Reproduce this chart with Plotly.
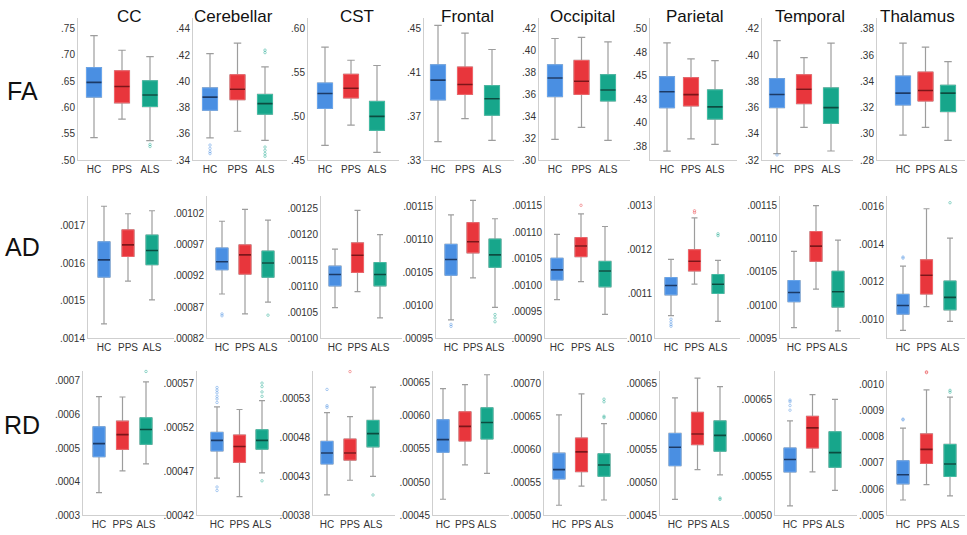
import plotly.graph_objects as go
from decimal import Decimal, ROUND_HALF_UP

W, H = 967, 535

GROUPS = ["HC", "PPS", "ALS"]
REGIONS = ["CC", "Cerebellar", "CST", "Frontal", "Occipital", "Parietal", "Temporal", "Thalamus"]
METRICS = ["FA", "AD", "RD"]

# Five-number summaries per region: (lower whisker, Q1, median, Q3, upper whisker)
FA_HC = [
    (.543, .620, .648, .676, .737),
    (.357, .378, .388, .395, .421),
    (.467, .509, .526, .538, .579),
    (.347, .385, .403, .417, .453),
    (.319, .358, .375, .387, .411),
    (.370, .416, .433, .449, .485),
    (.325, .360, .370, .382, .411),
    (.299, .322, .331, .344, .369),
]
FA_PPS = [
    (.578, .609, .640, .670, .709),
    (.362, .386, .394, .405, .429),
    (.490, .521, .532, .548, .564),
    (.368, .390, .399, .415, .446),
    (.330, .360, .372, .391, .412),
    (.383, .418, .430, .448, .468),
    (.345, .363, .374, .385, .398),
    (.305, .325, .333, .347, .366),
]
FA_ALS = [
    (.537, .602, .624, .651, .697),
    (.355, .375, .383, .390, .411),
    (.459, .484, .500, .517, .558),
    (.348, .371, .386, .398, .431),
    (.318, .354, .364, .378, .408),
    (.377, .404, .417, .435, .466),
    (.327, .348, .360, .375, .409),
    (.295, .317, .331, .337, .355),
]

AD_HC = [
    (.001438, .001563, .001609, .001657, .001752),
    (.000891, .000930, .000943, .000965, .001008),
    (.001059, .001101, .001123, .001139, .001172),
    (.000978, .001046, .001070, .001093, .001138),
    (.000973, .001010, .001029, .001051, .001096),
    (.001051, .001098, .001119, .001137, .001178),
    (.000966, .001005, .001019, .001037, .001081),
    (.000942, .001028, .001074, .001133, .001283),
]
AD_PPS = [
    (.001552, .001618, .001649, .001689, .001732),
    (.000859, .000923, .000954, .000970, .001027),
    (.001090, .001127, .001160, .001184, .001247),
    (.001042, .001080, .001097, .001126, .001160),
    (.001007, .001054, .001074, .001090, .001135),
    (.001122, .001152, .001174, .001200, .001272),
    (.001024, .001066, .001089, .001111, .001150),
    (.001068, .001135, .001235, .001317, .001589),
]
AD_ALS = [
    (.001502, .001596, .001634, .001675, .001740),
    (.000878, .000918, .000941, .000960, .001010),
    (.001039, .001101, .001123, .001146, .001200),
    (.000997, .001058, .001077, .001101, .001132),
    (.000945, .000997, .001027, .001045, .001111),
    (.001038, .001101, .001122, .001144, .001176),
    (.000961, .000997, .001020, .001051, .001098),
    (.000989, .001051, .001117, .001204, .001433),
]

RD_HC = [
    (.000367, .000474, .000513, .000563, .000653),
    (.000462, .000493, .000505, .000514, .000543),
    (.000406, .000446, .000460, .000475, .000512),
    (.000474, .000545, .000564, .000594, .000641),
    (.000515, .000555, .000569, .000594, .000652),
    (.000474, .000525, .000553, .000574, .000628),
    (.000512, .000556, .000572, .000587, .000622),
    (.000558, .000620, .000655, .000708, .000833),
]
RD_PPS = [
    (.000432, .000496, .000540, .000580, .000652),
    (.000441, .000480, .000498, .000511, .000540),
    (.000425, .000451, .000460, .000478, .000507),
    (.000526, .000562, .000584, .000606, .000647),
    (.000544, .000566, .000596, .000617, .000684),
    (.000519, .000557, .000573, .000606, .000658),
    (.000556, .000587, .000613, .000628, .000656),
    (.000617, .000698, .000752, .000811, .000980),
]
RD_ALS = [
    (.000453, .000511, .000555, .000590, .000697),
    (.000468, .000495, .000505, .000517, .000550),
    (.000430, .000468, .000485, .000502, .000545),
    (.000513, .000565, .000590, .000612, .000662),
    (.000523, .000559, .000576, .000593, .000639),
    (.000511, .000547, .000571, .000593, .000645),
    (.000532, .000562, .000581, .000608, .000650),
    (.000574, .000648, .000696, .000771, .000952),
]

# Outlying subjects: (region, group, values)
FA_OUT = [
    ("CC", "ALS", [.530, .526]),
    ("Cerebellar", "HC", [.3515, .3490, .3465, .3450]),
    ("Cerebellar", "ALS", [.4237, .4218, .3500, .3475, .3450, .3430]),
    ("Temporal", "HC", [.3240]),
]
AD_OUT = [
    ("Cerebellar", "HC", [.000859, .000856]),
    ("Cerebellar", "ALS", [.000857]),
    ("Frontal", "HC", [.000971, .000968]),
    ("Frontal", "ALS", [.000986, .000981, .000975]),
    ("Occipital", "PPS", [.001151]),
    ("Parietal", "HC", [.001043, .001037, .001031, .001027]),
    ("Parietal", "PPS", [.001288, .001284]),
    ("Parietal", "ALS", [.001236, .001232]),
    ("Thalamus", "HC", [.001332, .001326]),
    ("Thalamus", "ALS", [.001621]),
]
RD_OUT = [
    ("CC", "ALS", [.000728]),
    ("Cerebellar", "HC", [.000565, .000562, .000559, .000555, .000552, .000548, .000452, .000448]),
    ("Cerebellar", "ALS", [.000570, .000566, .000560, .000555, .000459]),
    ("CST", "HC", [.000542, .000521, .000519]),
    ("CST", "PPS", [.000565]),
    ("CST", "ALS", [.000406]),
    ("Occipital", "ALS", [.000676, .000672, .000650, .000648]),
    ("Parietal", "ALS", [.000476, .000474]),
    ("Temporal", "HC", [.000649, .000647, .000642, .000636]),
    ("Thalamus", "HC", [.000868, .000865]),
    ("Thalamus", "PPS", [.001049, .001046]),
    ("Thalamus", "ALS", [.000978, .000971]),
]

# Y axis ticks, label decimals and ranges per region
FA_TICKS = [
    [.50, .55, .60, .65, .70, .75],
    [.34, .36, .38, .40, .42, .44],
    [.45, .50, .55, .60],
    [.33, .37, .41, .45],
    [.30, .32, .34, .36, .38, .40, .42],
    [.375, .40, .425, .45, .475, .50],
    [.32, .34, .36, .38, .40, .42],
    [.28, .30, .32, .34, .36, .38],
]
AD_TICKS = [
    [.0014, .0015, .0016, .0017],
    [.00082, .00087, .00092, .00097, .00102],
    [.00100, .00105, .00110, .00115, .00120, .00125],
    [.00095, .00100, .00105, .00110, .00115],
    [.00090, .00095, .00100, .00105, .00110, .00115],
    [.0010, .0011, .0012, .0013],
    [.00095, .00100, .00105, .00110, .00115],
    [.0010, .0012, .0014, .0016],
]
RD_TICKS = [
    [.0003, .0004, .0005, .0006, .0007],
    [.00042, .00047, .00052, .00057],
    [.00038, .00043, .00048, .00053],
    [.00045, .00050, .00055, .00060, .00065],
    [.00050, .00055, .00060, .00065, .00070],
    [.00045, .00050, .00055, .00060, .00065],
    [.00050, .00055, .00060, .00065],
    [.0005, .0006, .0007, .0008, .0009, .0010],
]
FA_DEC = [2, 2, 2, 2, 2, 2, 2, 2]
AD_DEC = [4, 5, 5, 5, 5, 4, 5, 4]
RD_DEC = [4, 5, 5, 5, 5, 5, 5, 4]

FA_RANGE = [(.50, .7707), (.34, .4483), (.45, .6124), (.33, .4599),
            (.30, .4299), (.3603, .5116), (.32, .4283), (.28, .3883)]
AD_RANGE = [(.0014, .00178), (.00082, .001049), (.00100, .001275), (.00095, .001167),
            (.00090, .001169), (.0010, .001322), (.00095, .001165), (.0009, .001658)]
RD_RANGE = [(.0003, .00073), (.00042, .000584), (.00038, .000566), (.00045, .000668),
            (.00050, .000719), (.00045, .000669), (.00050, .000687), (.0005, .001053)]

STATS = {"FA": (FA_HC, FA_PPS, FA_ALS), "AD": (AD_HC, AD_PPS, AD_ALS), "RD": (RD_HC, RD_PPS, RD_ALS)}
OUTS = {"FA": FA_OUT, "AD": AD_OUT, "RD": RD_OUT}
TICKS = {"FA": FA_TICKS, "AD": AD_TICKS, "RD": RD_TICKS}
DECS = {"FA": FA_DEC, "AD": AD_DEC, "RD": RD_DEC}
RANGES = {"FA": FA_RANGE, "AD": AD_RANGE, "RD": RD_RANGE}

# Styling
FILL = {"HC": "#4a8fe2", "PPS": "#e8363c", "ALS": "#17a68b"}
EDGE = {"HC": "#6ba6ec", "PPS": "#f06469", "ALS": "#44bca4"}
MEDIAN = {"HC": "#1c3a66", "PPS": "#7c1519", "ALS": "#0b4c40"}
WHISKER = "#9d9d9d"
AXIS_COLOR = "#cfcfcf"
FONT = "Liberation Sans"

# Panel geometry in pixels (one list per metric row)
ROW_Y = [(18, 162), (198, 342), (375, 521)]
AXIS_X = [[78, 193, 308, 424, 539, 650, 762, 877],
          [88, 207, 321, 436, 545, 655, 780, 887],
          [83, 197, 313, 433, 544, 660, 775, 887]]
FIRST_X = [[94, 210, 325, 438, 555, 667, 777, 903],
           [104, 222, 335, 451, 557, 671, 794, 903],
           [99, 217, 327, 443, 559, 675, 790, 903]]
LAST_X = [[150, 265, 377, 492, 608, 715, 831, 948],
          [152, 268, 380, 495, 605, 718, 838, 950],
          [146, 262, 373, 487, 604, 720, 835, 950]]
BOX_PX = [15, 12, 12]
TITLE_X = [129, 233, 357, 467, 582, 695, 810, 917]
TITLE_Y = 17
LABEL_X = 22
LABEL_Y = [92, 250, 430]


def fx(p):
    return p / W


def fy(p):
    return 1 - p / H


def tick_text(v, d):
    q = Decimal(str(v)).quantize(Decimal(1).scaleb(-d), rounding=ROUND_HALF_UP)
    s = format(q, "f")
    return s[1:] if s.startswith("0") else s


fig = go.Figure()
layout = {}
annotations = []
n = 0
for r, m in enumerate(METRICS):
    top_px, bot_px = ROW_Y[r]
    for c, region in enumerate(REGIONS):
        n += 1
        xa = "x" if n == 1 else f"x{n}"
        ya = "y" if n == 1 else f"y{n}"
        step = (LAST_X[r][c] - FIRST_X[r][c]) / 2
        x_lo = -(FIRST_X[r][c] - AXIS_X[r][c]) / step
        right = min(LAST_X[r][c] + 22, W - 2)
        x_hi = 2 + (right - LAST_X[r][c]) / step
        bw = BOX_PX[r] / step

        for g, grp in enumerate(GROUPS):
            lo, q1, med, q3, hi = STATS[m][g][c]
            # whiskers
            fig.add_trace(go.Box(
                x=[g], q1=[q1], median=[med], q3=[q3], lowerfence=[lo], upperfence=[hi],
                width=bw, whiskerwidth=0.5, boxpoints=False,
                line=dict(color=WHISKER, width=1.2), fillcolor="rgba(0,0,0,0)",
                xaxis=xa, yaxis=ya, showlegend=False, hoverinfo="skip"))
            # filled interquartile box
            fig.add_trace(go.Box(
                x=[g], q1=[q1], median=[med], q3=[q3], lowerfence=[q1], upperfence=[q3],
                width=bw, whiskerwidth=0, boxpoints=False,
                line=dict(color=EDGE[grp], width=1), fillcolor=FILL[grp],
                xaxis=xa, yaxis=ya, showlegend=False, hoverinfo="skip"))
            # median bar
            fig.add_trace(go.Scatter(
                x=[g - bw / 2, g + bw / 2], y=[med, med], mode="lines",
                line=dict(color=MEDIAN[grp], width=1.6),
                xaxis=xa, yaxis=ya, showlegend=False, hoverinfo="skip"))

        for reg, grp, vals in OUTS[m]:
            if reg != region:
                continue
            g = GROUPS.index(grp)
            fig.add_trace(go.Scatter(
                x=[g] * len(vals), y=vals, mode="markers", cliponaxis=False,
                marker=dict(symbol="circle-open", size=2.5, color=FILL[grp],
                            opacity=0.55, line=dict(width=0.8)),
                xaxis=xa, yaxis=ya, showlegend=False, hoverinfo="skip"))

        tv = TICKS[m][c]
        layout["xaxis" if n == 1 else f"xaxis{n}"] = dict(
            domain=[fx(AXIS_X[r][c]), fx(right)], range=[x_lo, x_hi], anchor=ya,
            tickvals=[0, 1, 2], ticktext=GROUPS, ticks="",
            showline=True, linecolor=AXIS_COLOR, linewidth=1,
            showgrid=False, zeroline=False,
            tickfont=dict(family=FONT, size=10, color="#333333"))
        layout["yaxis" if n == 1 else f"yaxis{n}"] = dict(
            domain=[fy(bot_px), fy(top_px)], range=list(RANGES[m][c]), anchor=xa,
            tickvals=tv, ticktext=[tick_text(v, DECS[m][c]) for v in tv], ticks="",
            showline=True, linecolor=AXIS_COLOR, linewidth=1,
            showgrid=False, zeroline=False,
            tickfont=dict(family=FONT, size=10, color="#333333"))

        if r == 0:
            annotations.append(dict(
                text=region, xref="paper", yref="paper", x=fx(TITLE_X[c]), y=fy(TITLE_Y),
                xanchor="center", yanchor="middle", showarrow=False,
                font=dict(family=FONT, size=17, color="#111111")))

    annotations.append(dict(
        text=m, xref="paper", yref="paper", x=fx(LABEL_X), y=fy(LABEL_Y[r]),
        xanchor="center", yanchor="middle", showarrow=False,
        font=dict(family=FONT, size=25, color="#111111")))

fig.update_layout(
    width=W, height=H,
    margin=dict(l=0, r=0, t=0, b=0),
    paper_bgcolor="white", plot_bgcolor="white",
    boxmode="overlay",
    annotations=annotations,
    **layout)

fig.write_html("out.html")
